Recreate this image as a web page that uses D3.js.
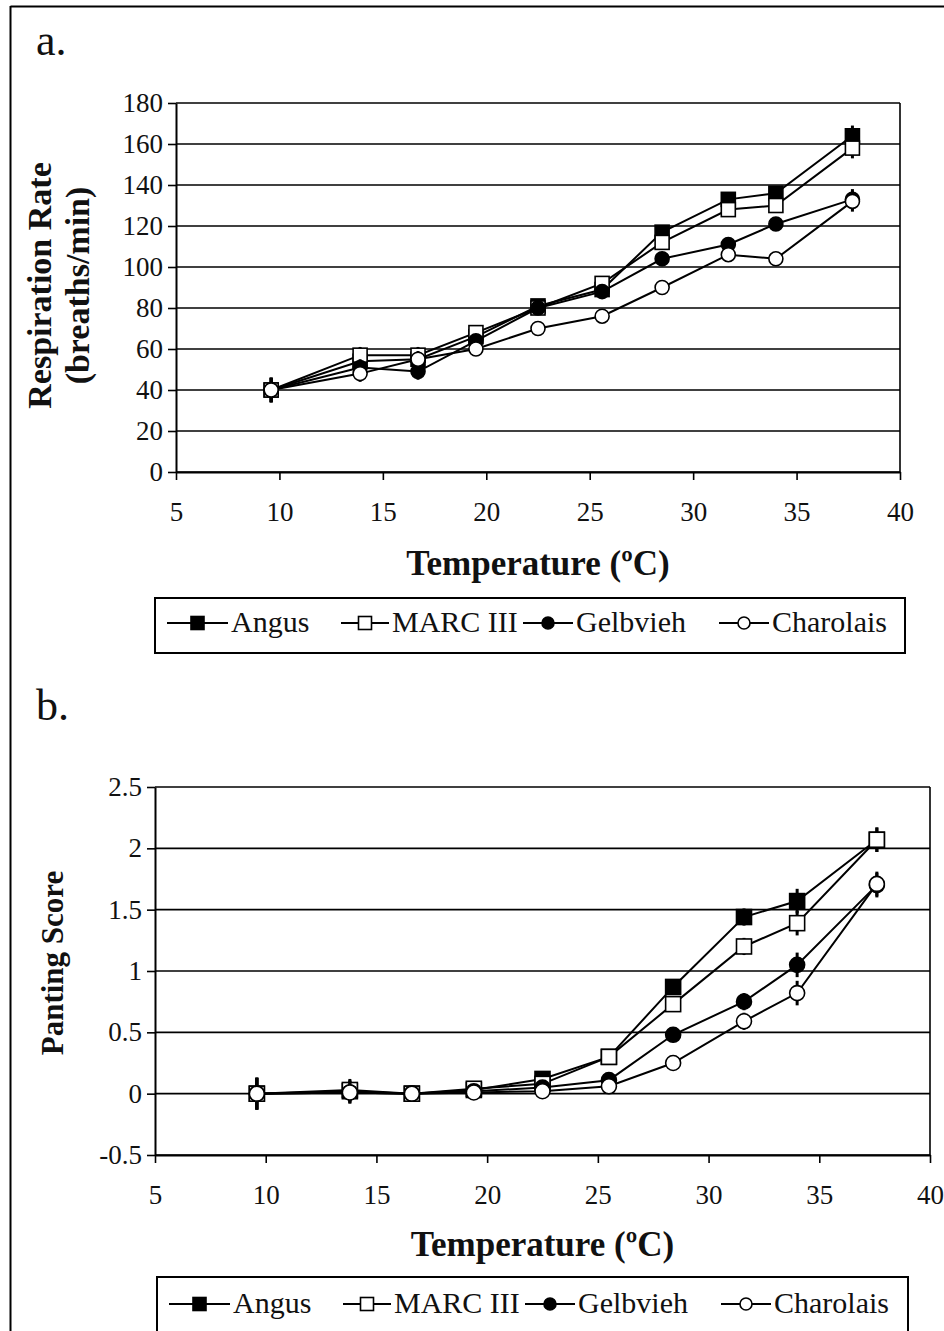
<!DOCTYPE html>
<html><head><meta charset="utf-8">
<script src="https://cdn.jsdelivr.net/npm/d3@7"></script>
<style>body{margin:0;background:#fff}svg{display:block}text{font-family:"Liberation Serif","Times New Roman",serif;fill:#111}</style>
</head><body><div id="c"></div>
<script>
const series = ["Angus","MARC III","Gelbvieh","Charolais"];
const markers = ["square-filled","square-open","circle-filled","circle-open"];
const tempsA = [9.6,13.9,16.7,19.5,22.5,25.6,28.5,31.7,34.0,37.7];
const tempsB = [9.6,13.8,16.6,19.4,22.5,25.5,28.4,31.6,34.0,37.6];
const respAngus = [40,54,55,66,81,89,117,133,136,164];
const respMarc = [40,57,57,68,80,92,112,128,130,158];
const respGelb = [40,51,49,64,80,88,104,111,121,133];
const respChar = [40,48,55,60,70,76,90,106,104,132];
const respErr = [6,4,4,2,2,2,3,3,3,5];
const pantAngus = [0,0.02,0,0.03,0.12,0.3,0.87,1.44,1.57,2.07];
const pantMarc = [0,0.03,0,0.04,0.08,0.3,0.73,1.2,1.39,2.07];
const pantGelb = [0,0.01,0,0.02,0.05,0.11,0.48,0.75,1.05,1.7];
const pantChar = [0,0.01,0,0.01,0.02,0.06,0.25,0.59,0.82,1.71];
const pantErr = [0.13,0.09,0.05,0.04,0.04,0.05,0.06,0.07,0.1,0.1];
const xTicks = [5,10,15,20,25,30,35,40];
const yTicksA = [0,20,40,60,80,100,120,140,160,180];
const yTicksB = [-0.5,0,0.5,1,1.5,2,2.5];

const W=944,H=1331;
const svg=d3.select("#c").append("svg").attr("width",W).attr("height",H);
svg.append("line").attr("x1",10.5).attr("x2",W).attr("y1",6.5).attr("y2",6.5).attr("stroke","#000").attr("stroke-width",2);
svg.append("line").attr("x1",10.5).attr("x2",10.5).attr("y1",6).attr("y2",H).attr("stroke","#000").attr("stroke-width",2);

function marker(g,type,x,y,size){
  if(type.startsWith("square")){
    g.append("rect").attr("x",x-size/2).attr("y",y-size/2).attr("width",size).attr("height",size)
     .attr("fill",type.endsWith("filled")?"#000":"#fff").attr("stroke","#000").attr("stroke-width",1.6);
  } else {
    g.append("circle").attr("cx",x).attr("cy",y).attr("r",size/2)
     .attr("fill",type.endsWith("filled")?"#000":"#fff").attr("stroke","#000").attr("stroke-width",1.6);
  }
}

function chart(o){
  const x=d3.scaleLinear().domain([5,40]).range([o.left,o.right]);
  const y=d3.scaleLinear().domain(o.yDomain).range([o.bottom,o.top]);
  const g=svg.append("g");
  g.selectAll(".grid").data(o.yTicks).join("line")
    .attr("x1",o.left).attr("x2",o.right).attr("y1",d=>y(d)).attr("y2",d=>y(d))
    .attr("stroke","#000").attr("stroke-width",1.6);
  g.append("line").attr("x1",o.right).attr("x2",o.right).attr("y1",o.top).attr("y2",o.bottom).attr("stroke","#000").attr("stroke-width",1.6);
  const ya=g.append("g").attr("transform",`translate(${o.left},0)`)
    .call(d3.axisLeft(y).tickValues(o.yTicks).tickSize(8).tickSizeOuter(0).tickFormat(o.yFmt).tickPadding(5));
  const xa=g.append("g").attr("transform",`translate(0,${o.bottom})`)
    .call(d3.axisBottom(x).tickValues(xTicks).tickSize(8).tickSizeOuter(0).tickPadding(22));
  [ya,xa].forEach(a=>{a.select(".domain").attr("stroke","#000").attr("stroke-width",2);
    a.selectAll(".tick line").attr("stroke","#000").attr("stroke-width",1.6);
    a.selectAll("text").attr("font-size",27).attr("font-family","Liberation Serif").attr("fill","#111");});
  o.data.forEach((vals,i)=>{
    const sg=g.append("g");
    const pts=o.temps.map((t,j)=>[x(t),y(vals[j])]);
    sg.append("path").attr("d",d3.line()(pts)).attr("fill","none").attr("stroke","#000").attr("stroke-width",2);
    o.temps.forEach((t,j)=>{
      const e=o.err[j];
      sg.append("line").attr("x1",x(t)).attr("x2",x(t)).attr("y1",y(vals[j]-e)).attr("y2",y(vals[j]+e)).attr("stroke","#000").attr("stroke-width",3);
    });
    pts.forEach(p=>marker(sg,markers[i],p[0],p[1],o.msize));
  });
  g.append("text").attr("x",(o.left+o.right)/2).attr("y",o.xTitleY).attr("text-anchor","middle")
    .attr("font-size",35).attr("font-weight","bold").text("Temperature (ºC)");
  const yl=g.append("text").attr("transform",`translate(${o.yTitleX},${(o.top+o.bottom)/2+o.yTitleDy}) rotate(-90)`)
    .attr("text-anchor","middle").attr("font-size",o.yTitleSize).attr("font-weight","bold");
  o.yTitle.forEach((t,k)=>yl.append("tspan").attr("x",0).attr("dy",k===0?0:38).text(t));
  const lg=g.append("g");
  lg.append("rect").attr("x",o.legX).attr("y",o.legY).attr("width",o.legW).attr("height",o.legH)
    .attr("fill","#fff").attr("stroke","#000").attr("stroke-width",2);
  const items=[{x0:167,tx:231},{x0:341,tx:392},{x0:523,tx:576},{x0:719,tx:772}];
  items.forEach((it,i)=>{
    const cy=o.legY+o.legTextDy-9;
    const x0=it.x0+o.legShift, x1=it.tx+o.legShift-3;
    lg.append("line").attr("x1",x0).attr("x2",x1).attr("y1",cy).attr("y2",cy).attr("stroke","#000").attr("stroke-width",2);
    marker(lg,markers[i],(x0+x1)/2,cy,i<2?13:12);
    lg.append("text").attr("x",it.tx+o.legShift).attr("y",o.legY+o.legTextDy).attr("font-size",30).text(series[i]);
  });
  svg.append("text").attr("x",36).attr("y",o.panelY).attr("font-size",44).text(o.panel);
  return g;
}

chart({left:176,right:900,top:103,bottom:472,yDomain:[0,180],yTicks:yTicksA,yFmt:d3.format("d"),
  temps:tempsA,data:[respAngus,respMarc,respGelb,respChar],err:respErr,msize:14,
  xTitleY:575,yTitleX:51,yTitleDy:-2,yTitleSize:34,yTitle:["Respiration Rate","(breaths/min)"],
  legX:155,legY:598,legW:750,legH:55,legTextDy:34,legShift:0,panel:"a.",panelY:55});
chart({left:155,right:930,top:787,bottom:1155,yDomain:[-0.5,2.5],yTicks:yTicksB,yFmt:d=>String(d),
  temps:tempsB,data:[pantAngus,pantMarc,pantGelb,pantChar],err:pantErr,msize:15,
  xTitleY:1256,yTitleX:63,yTitleDy:-8,yTitleSize:31,yTitle:["Panting Score"],
  legX:157,legY:1277,legW:751,legH:60,legTextDy:36,legShift:2,panel:"b.",panelY:720});
</script></body></html>
